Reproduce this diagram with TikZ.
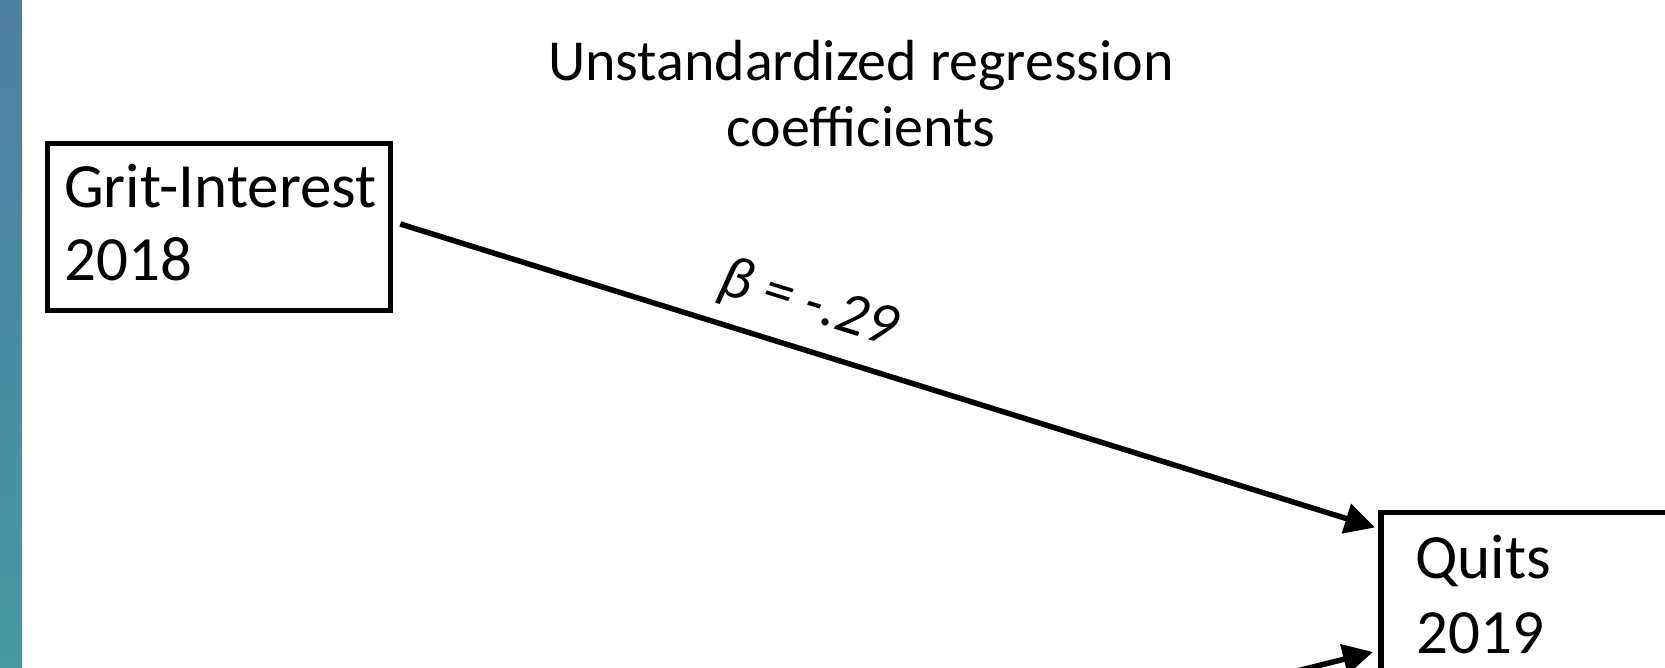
\documentclass[tikz,border=0pt]{standalone}
\usepackage{fontspec}
\setmainfont{Carlito}
\usetikzlibrary{arrows.meta}
\definecolor{bartop}{RGB}{77,127,160}
\definecolor{barbot}{RGB}{70,153,160}
\tikzset{
  varbox/.style={draw=black, line width=5.5pt, rectangle, inner sep=0pt},
  boxtext/.style={anchor=base west, inner sep=0pt, font=\fontsize{63}{73}\selectfont},
  titletext/.style={anchor=base, inner sep=0pt, font=\fontsize{58}{66}\selectfont},
  arr/.style={line width=5.5pt, -{Triangle[length=30pt,width=30pt]}},
  coef/.style={sloped, pos=0.405, anchor=base, yshift=29pt, inner sep=0pt, font=\fontsize{60}{66}\selectfont\itshape}
}
\begin{document}
\begin{tikzpicture}[x=1pt,y=-1pt]
\useasboundingbox (0,0) rectangle (1665,668);
\clip (0,0) rectangle (1665,668);
\fill[white] (0,0) rectangle (1665,668);
\shade[top color=bartop, bottom color=barbot] (0,0) rectangle (22,668);
% title
\node[titletext] (t1) at (861,81) {Unstandardized regression};
\node[titletext] (t2) at (861,147) {coefficients};
% boxes
\node[varbox, minimum width=343pt, minimum height=167pt] (grit) at (219,227) {};
\node[boxtext] (g1) at (64,208) {Grit-Interest};
\node[boxtext] (g2) at (64,281) {2018};
\node[varbox, minimum width=400pt, minimum height=300pt, anchor=north west] (quits) at (1378,509.5) {};
\node[boxtext] (q1) at (1415,578) {Quits};
\node[boxtext] (q2) at (1416,653) {2019};
% arrows
\coordinate (src2) at (1253,682);
\draw[arr] ([xshift=7pt,yshift=3pt]grit.east) -- node[coef] (b1) {β = -.29} ([xshift=-3pt,yshift=-18pt]quits.north west);
\draw[arr] (src2) -- ([xshift=-5pt,yshift=-142.5pt]quits.north west);
\end{tikzpicture}
\end{document}
